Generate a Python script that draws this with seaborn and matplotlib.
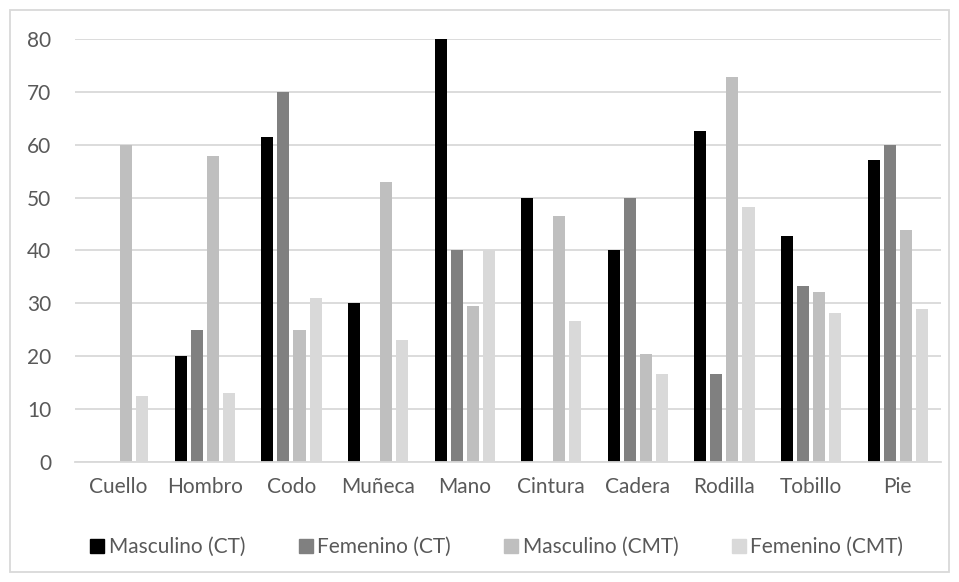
import pandas as pd
import numpy as np
import seaborn as sns
import matplotlib.pyplot as plt
from matplotlib.patches import Rectangle
from matplotlib.lines import Line2D

# data
zonas = ["Cuello", "Hombro", "Codo", "Muñeca", "Mano", "Cintura", "Cadera", "Rodilla", "Tobillo", "Pie"]
masc_ct = [0, 20, 61.5, 30, 80, 50, 40, 62.5, 42.8, 57.1]
fem_ct = [0, 25, 70, 0, 40, 0, 50, 16.6, 33.3, 60]
masc_cmt = [60, 57.9, 25, 52.9, 29.4, 46.6, 20.5, 72.7, 32.2, 43.9]
fem_cmt = [12.4, 13, 31, 23, 40, 26.6, 16.6, 48.3, 28.1, 29]
series = ["Masculino (CT)", "Femenino (CT)", "Masculino (CMT)", "Femenino (CMT)"]
colores = ["#000000", "#808080", "#bfbfbf", "#d9d9d9"]

rows = []
for name, vals in zip(series, [masc_ct, fem_ct, masc_cmt, fem_cmt]):
    for z, v in zip(zonas, vals):
        rows.append({"zona": z, "serie": name, "valor": v})
df = pd.DataFrame(rows)

sns.set_style("white")
plt.rcParams["font.family"] = ["Lato", "DejaVu Sans"]

fig = plt.figure(figsize=(9.59, 5.82), dpi=100)
ax = fig.add_axes([0.0782, 0.2062, 0.903, 0.727])

sns.barplot(data=df, x="zona", y="valor", hue="serie", order=zonas, hue_order=series,
            palette=colores, width=0.74, gap=0.25, saturation=1, legend=False,
            linewidth=0, ax=ax)

ax.set_ylim(0, 80)
ax.set_xlim(-0.5, len(zonas) - 0.5)
ax.set_yticks(range(0, 81, 10))
ax.yaxis.grid(True, color="#d9d9d9", linewidth=1.3)
ax.set_axisbelow(True)
ax.set_xlabel("")
ax.set_ylabel("")
for s in ["top", "left", "right"]:
    ax.spines[s].set_visible(False)
ax.spines["bottom"].set_color("#d9d9d9")
ax.spines["bottom"].set_linewidth(1.3)
ax.tick_params(axis="both", length=0, labelsize=15, colors="#595959")
ax.tick_params(axis="y", pad=17)
ax.tick_params(axis="x", pad=11)

handles = [Line2D([0], [0], marker="s", linestyle="", markersize=10,
                  markerfacecolor=c, markeredgecolor=c) for c in colores]
fig.legend(handles, series, loc="center", bbox_to_anchor=(495 / 959, 1 - 547 / 582),
           ncol=4, frameon=False, fontsize=15, labelcolor="#595959",
           handletextpad=0.05, columnspacing=2.4, handlelength=1.0)

# light outer border like the spreadsheet chart area
fig.patches.append(Rectangle((10 / 959, 10 / 582), 939 / 959, 562 / 582,
                             transform=fig.transFigure, fill=False,
                             edgecolor="#d9d9d9", linewidth=1.3))

fig.savefig("out.png", dpi=100, facecolor="white")
